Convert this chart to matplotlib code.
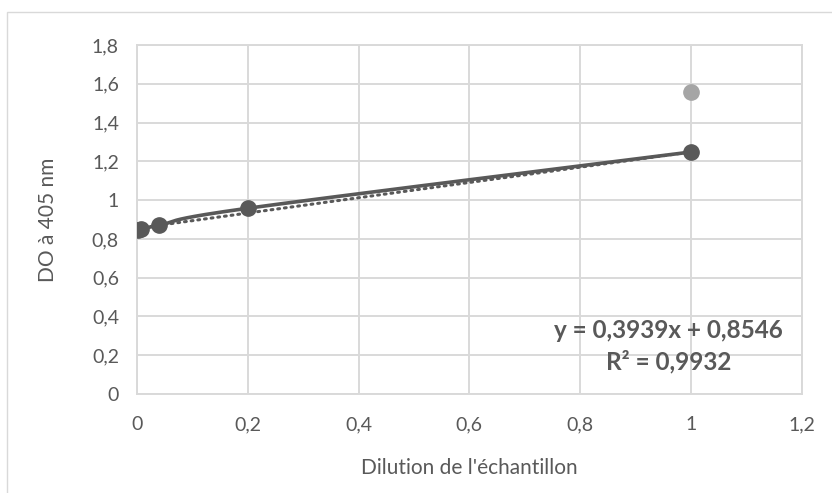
import numpy as np
import matplotlib
matplotlib.use("Agg")
import matplotlib.pyplot as plt
from matplotlib.patches import Rectangle

plt.rcParams["font.family"] = ["Lato", "DejaVu Sans"]

# dilution series (1/5) and optical density at 405 nm
dilution = [0.0016, 0.008, 0.04, 0.2, 1.0]
do_405 = [0.848, 0.853, 0.870, 0.958, 1.248]
outlier_x = [1.0]
outlier_y = [1.56]

slope = 0.3939
intercept = 0.8546
r2 = 0.9932

xticks = [0, 0.2, 0.4, 0.6, 0.8, 1.0, 1.2]
yticks = [0, 0.2, 0.4, 0.6, 0.8, 1.0, 1.2, 1.4, 1.6, 1.8]

TXT = "#595959"
GRID = "#d9d9d9"


def smooth(xs, ys, n=40):
    # Catmull-Rom style bezier through the points, like a spreadsheet "smoothed line"
    p = np.column_stack([xs, ys])
    p = np.vstack([p[0], p, p[-1]])
    out = []
    for i in range(1, len(p) - 2):
        p0, p1, p2, p3 = p[i - 1], p[i], p[i + 1], p[i + 2]
        c1 = p1 + (p2 - p0) / 6
        c2 = p2 - (p3 - p1) / 6
        t = np.linspace(0, 1, n)[:, None]
        seg = ((1 - t) ** 3) * p1 + 3 * ((1 - t) ** 2) * t * c1 + 3 * (1 - t) * t ** 2 * c2 + t ** 3 * p2
        out.append(seg)
    out = np.vstack(out)
    return out[:, 0], out[:, 1]


fig = plt.figure(figsize=(8.32, 4.93), dpi=100)
fig.patches.append(Rectangle((7 / 832, -0.05), 1.0, 1.05 - 12 / 493, transform=fig.transFigure,
                             fill=False, edgecolor=GRID, linewidth=1.0))
ax = fig.add_axes([137 / 832, 1 - 394 / 493, (801.5 - 137) / 832, (394 - 45) / 493])

ax.set_xlim(0, 1.2)
ax.set_ylim(0, 1.8)
ax.set_xticks(xticks)
ax.set_yticks(yticks)
fmt = lambda v: f"{v:g}".replace(".", ",")
ax.set_xticklabels([fmt(v) for v in xticks])
ax.set_yticklabels([fmt(v) for v in yticks])
ax.tick_params(length=0, labelsize=14, colors=TXT)
ax.tick_params(axis="y", pad=13)
ax.tick_params(axis="x", pad=16)
ax.grid(True, color=GRID, linewidth=1.4)
ax.set_axisbelow(True)
for s in ax.spines.values():
    s.set_color(GRID)
    s.set_linewidth(1.4)

# linear trendline over the data range
tx = np.array([min(dilution), max(dilution)])
ax.plot(tx, slope * tx + intercept, color=TXT, linewidth=2.2,
        linestyle=(0, (0.6, 1.6)), dash_capstyle="round", zorder=3)

sx, sy = smooth(dilution, do_405)
ax.plot(sx, sy, color=TXT, linewidth=2.6, solid_capstyle="round", zorder=4)
ax.plot(dilution, do_405, "o", color=TXT, markersize=11, zorder=5)
ax.plot(outlier_x, outlier_y, "o", color="#a5a5a5", markersize=11, zorder=5)

eq = f"y = {slope:.4f}x + {intercept:.4f}".replace(".", ",")
r2_txt = f"R² = {r2:.4f}".replace(".", ",")
ax.text(0.96, 0.33, eq, ha="center", va="center", fontsize=17.5, fontweight="bold", color=TXT)
ax.text(0.96, 0.166, r2_txt, ha="center", va="center", fontsize=17.5, fontweight="bold", color=TXT)

ax.set_xlabel("Dilution de l'échantillon", fontsize=15, color=TXT, labelpad=18)
ax.set_ylabel("DO à 405 nm", fontsize=15, color=TXT, labelpad=24)

fig.savefig("out.png", dpi=100)
